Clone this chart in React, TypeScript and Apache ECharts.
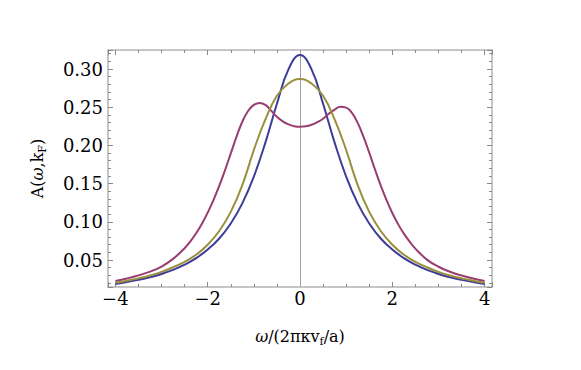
import React, { useEffect, useRef } from "react";
import * as echarts from "echarts";

const xs = [
  -4, -3.75, -3.5, -3.25, -3, -2.75, -2.5, -2.25, -2, -1.75, -1.5, -1.25, -1, -0.75, -0.5, -0.25,
  0, 0.25, 0.5, 0.75, 1, 1.25, 1.5, 1.75, 2, 2.25, 2.5, 2.75, 3, 3.25, 3.5, 3.75, 4,
];

const blueVals = [
  0.0187, 0.0211, 0.024, 0.0275, 0.0318, 0.0371, 0.0439, 0.0525, 0.0637, 0.0782, 0.0979, 0.1242,
  0.1592, 0.2037, 0.2546, 0.2996, 0.3183, 0.2996, 0.2546, 0.2037, 0.1592, 0.1242, 0.0979, 0.0782,
  0.0637, 0.0525, 0.0439, 0.0371, 0.0318, 0.0275, 0.024, 0.0211, 0.0187,
];

const yellowVals = [
  0.0203, 0.0229, 0.026, 0.0298, 0.0345, 0.0405, 0.0477, 0.057, 0.07, 0.088, 0.113, 0.148, 0.194,
  0.234, 0.265, 0.281, 0.287, 0.281, 0.265, 0.234, 0.194, 0.148, 0.113, 0.088, 0.07, 0.057, 0.0477,
  0.0405, 0.0345, 0.0298, 0.026, 0.0229, 0.0203,
];

const purpleXs = [
  -4, -3.75, -3.5, -3.25, -3, -2.75, -2.5, -2.375, -2.25, -2.125, -2, -1.875, -1.75, -1.625, -1.5,
  -1.375, -1.25, -1.125, -1, -0.875, -0.75, -0.625, -0.5, -0.375, -0.25, -0.125, 0, 0.125, 0.25, 0.375,
  0.5, 0.625, 0.75, 0.875, 1, 1.125, 1.25, 1.375, 1.5, 1.625, 1.75, 1.875, 2, 2.125, 2.25, 2.375, 2.5,
  2.75, 3, 3.25, 3.5, 3.75, 4,
];

const purpleVals = [
  0.0225, 0.0259, 0.0299, 0.0348, 0.0415, 0.0515, 0.0655, 0.0745, 0.085, 0.0975, 0.112, 0.1285, 0.147,
  0.1675, 0.1895, 0.2115, 0.231, 0.245, 0.253, 0.2555, 0.253, 0.2455, 0.2375, 0.2315, 0.2275, 0.2252,
  0.2245, 0.225, 0.227, 0.2305, 0.235, 0.2415, 0.247, 0.2505, 0.2495, 0.2425, 0.2295, 0.2115, 0.1905,
  0.1685, 0.1475, 0.1285, 0.1115, 0.097, 0.0845, 0.074, 0.065, 0.0505, 0.0412, 0.0346, 0.0297, 0.0258,
  0.0225,
];

const X_MIN = -4.16;
const X_MAX = 4.16;
const Y_MIN = 0.0147;
const Y_MAX = 0.3249;

const FONT = "DejaVu Serif";
const frameColor = "#b4b4b4";
const tickColor = "#8a8a8a";

export default function App() {
  const ref = useRef<HTMLDivElement>(null);

  useEffect(() => {
    if (!ref.current) return;
    const chart = echarts.init(ref.current, undefined, { renderer: "svg" });

    const pair = (x: number[], vals: number[]) => x.map((v, i) => [v, vals[i]]);

    const baseX = {
      type: "value",
      min: X_MIN,
      max: X_MAX,
      splitNumber: 4,
      splitLine: { show: false },
      axisLine: { show: true, onZero: false, lineStyle: { color: frameColor, width: 1.5 } },
      axisTick: { show: true, inside: true, length: 5, lineStyle: { color: tickColor, width: 1 } },
      minorTick: { show: true, splitNumber: 4, length: 3, lineStyle: { color: tickColor, width: 1 } },
      minorSplitLine: { show: false },
    };
    const baseY = {
      type: "value",
      min: Y_MIN,
      max: Y_MAX,
      splitNumber: 6,
      splitLine: { show: false },
      axisLine: { show: true, onZero: false, lineStyle: { color: frameColor, width: 1.5 } },
      axisTick: { show: true, inside: true, length: 5, lineStyle: { color: tickColor, width: 1 } },
      minorTick: { show: true, splitNumber: 5, length: 3, lineStyle: { color: tickColor, width: 1 } },
      minorSplitLine: { show: false },
    };

    const nameStyle = {
      fontFamily: FONT,
      fontSize: 16,
      color: "#000",
      lineHeight: 22,
      rich: {
        it: { fontFamily: FONT, fontSize: 16, fontStyle: "italic", color: "#000", lineHeight: 22 },
        sub: { fontFamily: FONT, fontSize: 11, color: "#000", lineHeight: 10, verticalAlign: "bottom" },
      },
    };

    const lineSeries = (name: string, data: number[][], color: string, z: number, extra: object = {}) => ({
      type: "line",
      name,
      data,
      smooth: 0.45,
      showSymbol: false,
      symbol: "none",
      lineStyle: { color, width: 2 },
      z,
      ...extra,
    });

    chart.setOption({
      animation: false,
      backgroundColor: "#ffffff",
      grid: { left: 108, top: 50, right: 89, bottom: 83, containLabel: false },
      xAxis: [
        {
          ...baseX,
          position: "bottom",
          name: "{it|ω}/(2πκv{sub|f}/a)",
          nameLocation: "middle",
          nameGap: 38,
          nameTextStyle: nameStyle,
          axisLabel: {
            show: true,
            showMinLabel: false,
            showMaxLabel: false,
            fontFamily: FONT,
            fontSize: 18,
            color: "#000",
            margin: 2,
            formatter: (v: number) => (v < 0 ? "\u2212" + Math.abs(v) : String(v)),
          },
        },
        {
          ...baseX,
          position: "top",
          axisLabel: { show: false },
        },
      ],
      yAxis: [
        {
          ...baseY,
          position: "left",
          name: "A({it|ω},k{sub|F})",
          nameLocation: "middle",
          nameRotate: 90,
          nameGap: 60,
          nameTextStyle: nameStyle,
          axisLabel: {
            show: true,
            showMinLabel: false,
            showMaxLabel: false,
            fontFamily: FONT,
            fontSize: 18,
            color: "#000",
            margin: 5,
            formatter: (v: number) => v.toFixed(2),
          },
        },
        {
          ...baseY,
          position: "right",
          axisLabel: { show: false },
        },
      ],
      series: [
        lineSeries("blue", pair(xs, blueVals), "#3d3d99", 3, {
          markLine: {
            silent: true,
            symbol: "none",
            label: { show: false },
            lineStyle: { color: "#a0a0a0", width: 1, type: "solid" },
            data: [{ xAxis: 0 }],
            z: 1,
          },
        }),
        lineSeries("purple", pair(purpleXs, purpleVals), "#993d71", 4),
        lineSeries("yellow", pair(xs, yellowVals), "#998f3d", 5),
      ],
    });

    return () => chart.dispose();
  }, []);

  return <div ref={ref} style={{ width: 581, height: 370, position: "absolute", left: 0, top: 0 }} />;
}
